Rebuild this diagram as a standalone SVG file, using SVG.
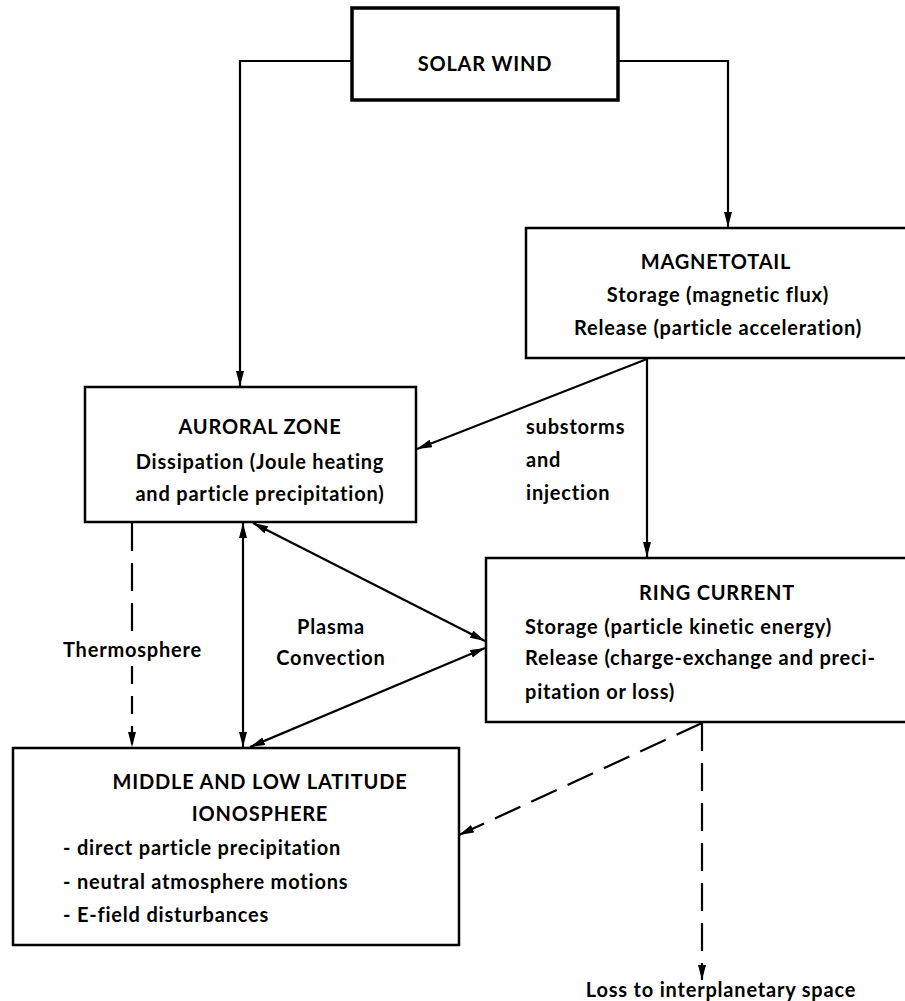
<svg xmlns="http://www.w3.org/2000/svg" width="905" height="1001" viewBox="0 0 905 1001">
  <style>
    .box { fill: #fff; stroke: #000; stroke-width: 2.5; }
    .thick { stroke-width: 3.5; }
    .t { font-family: Lato, "Liberation Sans", sans-serif; font-weight: bold; font-size: 20px; letter-spacing: 0.8px; fill: #000; }
    .c { text-anchor: middle; }
    .ln { fill: none; stroke: #000; stroke-width: 2.2; }
    .dash { stroke-dasharray: 28 12; }
  </style>
  <defs>
    <marker id="ah" markerUnits="userSpaceOnUse" markerWidth="16" markerHeight="9" refX="15" refY="4" orient="auto-start-reverse">
      <path d="M0,0 L15,4 L0,8 z" fill="#000"/>
    </marker>
  </defs>
  <rect width="905" height="1001" fill="#fff"/>

  <!-- connectors -->
  <g id="connectors">
    <polyline class="ln" points="352,61 240,61 240,386" marker-end="url(#ah)"/>
    <polyline class="ln" points="618,61 728,61 728,227" marker-end="url(#ah)"/>
    <line class="ln" x1="647" y1="359" x2="417" y2="449" marker-end="url(#ah)"/>
    <line class="ln" x1="647" y1="359" x2="647" y2="557" marker-end="url(#ah)"/>
    <line class="ln" x1="132" y1="523" x2="132" y2="638" stroke-dasharray="28 12"/>
    <line class="ln" x1="132" y1="662" x2="132" y2="747" stroke-dasharray="18 12" stroke-dashoffset="-4" marker-end="url(#ah)"/>
    <line class="ln" x1="243" y1="523" x2="243" y2="747" marker-start="url(#ah)" marker-end="url(#ah)"/>
    <line class="ln" x1="253" y1="523" x2="485" y2="641" marker-start="url(#ah)" marker-end="url(#ah)"/>
    <line class="ln" x1="250" y1="747" x2="485" y2="648" marker-start="url(#ah)" marker-end="url(#ah)"/>
    <line class="ln dash" x1="702" y1="723" x2="459" y2="835" stroke-dasharray="34 18" marker-end="url(#ah)"/>
    <line class="ln dash" x1="702" y1="723" x2="702" y2="980" marker-end="url(#ah)"/>
  </g>

  <g id="solar-wind">
    <rect class="box thick" x="352" y="8" width="266" height="92"/>
    <text class="t c" x="485" y="71" font-size="21">SOLAR WIND</text>
  </g>

  <g id="magnetotail">
    <rect class="box" x="526" y="228" width="384" height="130"/>
    <text class="t c" x="716" y="269">MAGNETOTAIL</text>
    <text class="t c" x="718" y="302">Storage (magnetic flux)</text>
    <text class="t c" x="718" y="335">Release (particle acceleration)</text>
  </g>

  <g id="auroral-zone">
    <rect class="box" x="85" y="387" width="331" height="135"/>
    <text class="t c" x="260" y="434">AURORAL ZONE</text>
    <text class="t c" x="260" y="469">Dissipation (Joule heating</text>
    <text class="t c" x="260" y="501">and particle precipitation)</text>
  </g>

  <g id="ring-current">
    <rect class="box" x="486" y="558" width="424" height="164"/>
    <text class="t c" x="717" y="600">RING CURRENT</text>
    <text class="t" x="525" y="634">Storage (particle kinetic energy)</text>
    <text class="t" x="525" y="665">Release (charge-exchange and preci-</text>
    <text class="t" x="525" y="699">pitation or loss)</text>
  </g>

  <g id="ionosphere">
    <rect class="box" x="13" y="748" width="446" height="197"/>
    <text class="t c" x="260" y="789">MIDDLE AND LOW LATITUDE</text>
    <text class="t c" x="260" y="821">IONOSPHERE</text>
    <text class="t" x="63" y="855">- direct particle precipitation</text>
    <text class="t" x="63" y="889">- neutral atmosphere motions</text>
    <text class="t" x="63" y="922">- E-field disturbances</text>
  </g>

  <g id="labels">
    <text class="t" x="526" y="434">substorms</text>
    <text class="t" x="526" y="467">and</text>
    <text class="t" x="526" y="500">injection</text>
    <text class="t" x="63" y="657">Thermosphere</text>
    <text class="t c" x="331" y="634">Plasma</text>
    <text class="t c" x="331" y="665">Convection</text>
    <text class="t c" x="721" y="997">Loss to interplanetary space</text>
  </g>
</svg>
